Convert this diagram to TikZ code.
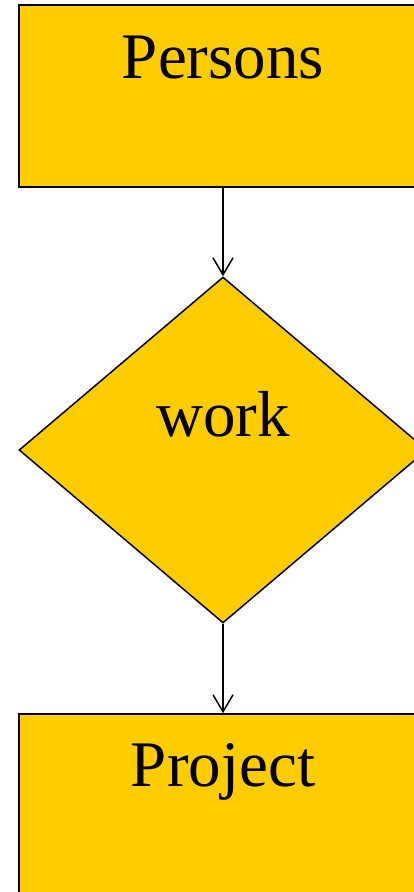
\documentclass[tikz,border=0pt]{standalone}
\usepackage{fontspec}
\setmainfont{Liberation Serif}
\usetikzlibrary{shapes.geometric,arrows.meta}
\definecolor{boxfill}{HTML}{FFCC00}
\tikzset{
  box/.style={draw=black, line width=1.5pt, fill=boxfill, rectangle, inner sep=0pt, minimum width=408pt},
  dia/.style={draw=black, line width=1.5pt, fill=boxfill, diamond, inner sep=0pt, minimum width=408pt, minimum height=346pt},
  lbl/.style={anchor=base, inner sep=0pt, font=\fontsize{65}{78}\selectfont},
  conn/.style={draw=black, line width=1.5pt, -{Straight Barb[length=17pt,width=20pt,line width=1.5pt]}}
}
\begin{document}
\begin{tikzpicture}[x=1pt,y=-1pt]
\useasboundingbox (0,0) rectangle (414,892);
\begin{scope}
\clip (0,0) rectangle (414,892);
\node[box, minimum height=182pt] (persons) at (223,96) {};
\node[dia] (work) at (223,450) {};
\node[box, minimum height=190pt] (project) at (223,809) {};
\node[lbl] (tpersons) at (223,78) {Persons};
\node[lbl] (twork) at (223,436) {work};
\node[lbl] (tproject) at (223,786) {Project};
\draw[conn] (persons.south) -- (work.north);
\draw[conn] (work.south) -- (project.north);
\end{scope}
\end{tikzpicture}
\end{document}
